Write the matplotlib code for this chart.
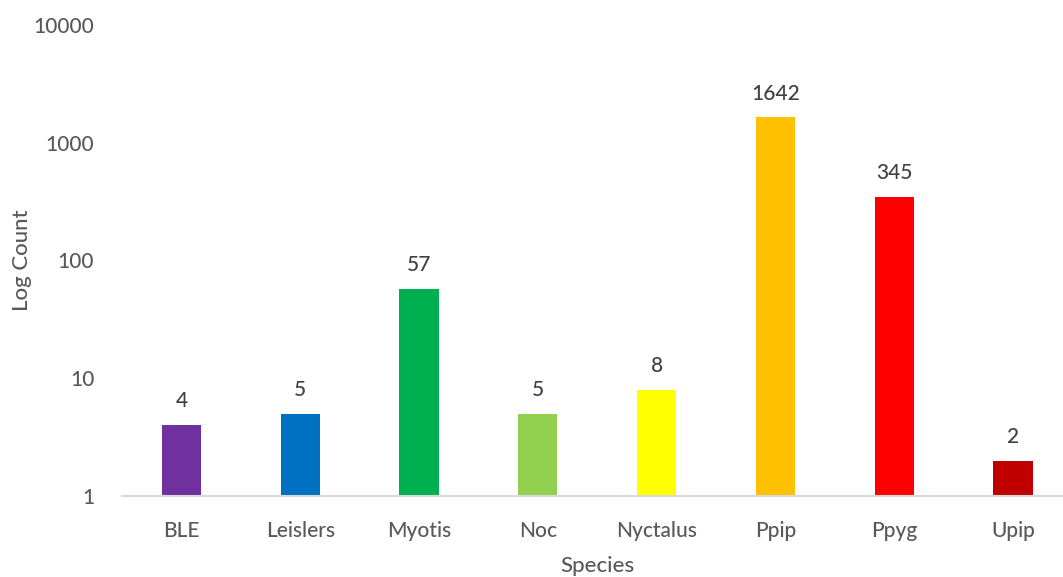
import matplotlib
matplotlib.use("Agg")
import matplotlib.pyplot as plt
from matplotlib.ticker import FixedLocator, FixedFormatter, NullLocator

species = ["BLE", "Leislers", "Myotis", "Noc", "Nyctalus", "Ppip", "Ppyg", "Upip"]
counts = [4, 5, 57, 5, 8, 1642, 345, 2]
colors = ["#7030A0", "#0070C0", "#00B050", "#92D050", "#FFFF00", "#FFC000", "#FF0000", "#C00000"]
ytick_vals = [1, 10, 100, 1000, 10000]
ytick_labels = ["1", "10", "100", "1000", "10000"]

plt.rcParams['font.family'] = ['Lato', 'DejaVu Sans']
txt = "#595959"

W, H = 1063, 577
fig = plt.figure(figsize=(W / 100, H / 100), dpi=100)
ax = fig.add_axes([122 / W, 81 / H, (W - 122) / W, (496 - 25) / H])

x = list(range(len(species)))
ax.bar(x, counts, width=0.33, color=colors, zorder=2)
ax.set_yscale("log")
ax.set_ylim(1, 10000)
ax.set_xlim(-0.5, 7.42)

ax.yaxis.set_major_locator(FixedLocator(ytick_vals))
ax.yaxis.set_major_formatter(FixedFormatter(ytick_labels))
ax.yaxis.set_minor_locator(NullLocator())
ax.set_xticks(x)
ax.set_xticklabels(species)
ax.tick_params(axis="both", length=0, labelsize=15, colors=txt)
ax.tick_params(axis="y", pad=20)
ax.tick_params(axis="x", pad=18)
for lab in ax.get_xticklabels() + ax.get_yticklabels():
    lab.set_fontweight("medium")

for s in ["top", "right", "left"]:
    ax.spines[s].set_visible(False)
ax.spines["bottom"].set_color("#D9D9D9")
ax.spines["bottom"].set_linewidth(1.5)

for xi, c in zip(x, counts):
    ax.annotate(str(c), (xi, c), xytext=(0, 10), textcoords="offset points",
                ha="center", va="bottom", fontsize=15, color="#404040",
                fontweight="medium")

ax.set_xlabel("Species", fontsize=16, color=txt, fontweight="medium")
ax.set_ylabel("Log Count", fontsize=16, color=txt, fontweight="medium")
ax.yaxis.set_label_coords(-(122 - 22) / (W - 122), 0.5)
ax.xaxis.set_label_coords((597 - 122) / (W - 122), -(566 - 496) / (496 - 25))
ax.xaxis.label.set_va("center")
ax.yaxis.label.set_va("center")

fig.savefig("out.png", dpi=100)
